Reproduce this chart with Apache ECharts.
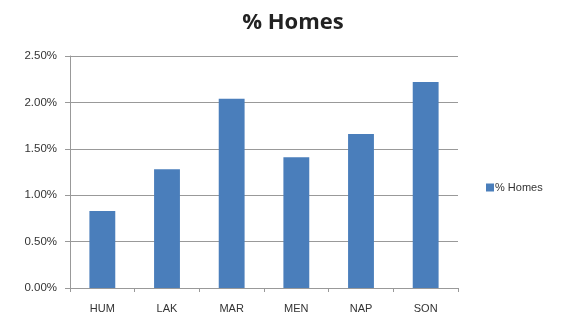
<!DOCTYPE html>
<html><head><meta charset="utf-8">
<script src="https://cdn.jsdelivr.net/npm/echarts@6/dist/echarts.min.js"></script>
<style>html,body{margin:0;padding:0;background:#fff}#c{width:564px;height:318px}</style>
</head><body><div id="c"></div>
<script>
const categories = ["HUM", "LAK", "MAR", "MEN", "NAP", "SON"];
const homesPct = [0.83, 1.28, 2.04, 1.41, 1.66, 2.22];
const seriesName = "% Homes";

const chart = echarts.init(document.getElementById('c'));
chart.setOption({
  animation: false,
  backgroundColor: '#fff',
  title: {
    text: seriesName, left: 288, textAlign: 'center', top: 7,
    textStyle: { fontFamily: 'Open Sans', fontSize: 22, fontWeight: 'bold', color: '#222' }
  },
  legend: {
    data: [seriesName], left: 481, top: 177, orient: 'vertical', icon: 'rect',
    itemWidth: 8, itemHeight: 8, itemGap: 3,
    textStyle: { fontFamily: 'Liberation Sans', fontSize: 11, color: '#333', padding: [0,0,0,-4] }
  },
  grid: { left: 70, right: 106, top: 56, bottom: 30 },
  xAxis: {
    type: 'category', data: categories,
    axisLine: { lineStyle: { color: '#999' } },
    axisTick: { show: true, length: 4, lineStyle: { color: '#999' } },
    axisLabel: { fontFamily: 'Liberation Sans', fontSize: 11, color: '#333', margin: 15 }
  },
  yAxis: {
    type: 'value', min: 0, max: 2.5, interval: 0.5,
    axisLine: { show: true, lineStyle: { color: '#999' } },
    axisTick: { show: true, length: 5, lineStyle: { color: '#999' } },
    splitLine: { lineStyle: { color: '#999' } },
    axisLabel: { fontFamily: 'Liberation Sans', fontSize: 11.5, color: '#333', margin: 13,
      formatter: v => v.toFixed(2) + '%' }
  },
  series: [{
    name: seriesName, type: 'bar', data: homesPct, barWidth: '40%',
    itemStyle: { color: '#4a7ebb' }
  }]
});
</script></body></html>
